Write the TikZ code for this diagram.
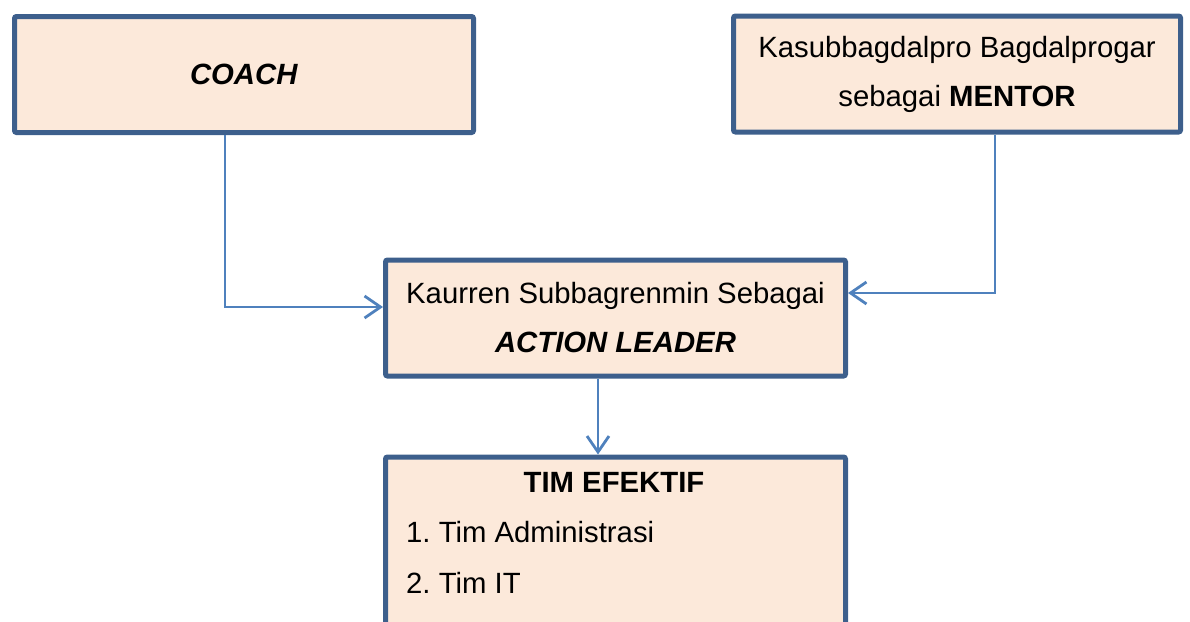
\documentclass[tikz,border=0pt]{standalone}
\usepackage{fontspec}
\setmainfont{Liberation Sans}
\usetikzlibrary{positioning, arrows.meta}
\definecolor{peach}{HTML}{FCE9DA}
\definecolor{boxblue}{HTML}{3D5F8C}
\definecolor{linkblue}{HTML}{4F81BD}
\frenchspacing

\tikzset{
  rolebox/.style={draw=boxblue, line width=5pt, fill=peach, rounded corners=2pt,
    minimum width=460pt, minimum height=116pt, inner sep=0pt, align=center,
    font=\fontsize{29.3}{49}\selectfont},
  timtext/.style={anchor=base, inner sep=0pt, font=\fontsize{29.3}{35}\selectfont},
  link/.style={draw=linkblue, line width=2.8pt, -{Straight Barb[length=16pt,width=22pt]}}
}

\begin{document}
\begin{tikzpicture}[x=1pt, y=-1pt]
    \useasboundingbox (0,0) rectangle (1190,621);
    \node[rolebox, minimum width=459pt] (coach) at (244,74.5) {\textbf{\textit{COACH}}};
    \node[rolebox, minimum width=447pt] (mentor) at (957,74)
      {Kasubbagdalpro Bagdalprogar\\ sebagai \textbf{MENTOR}};
    \node[rolebox] (leader) at (615.5,318)
      {Kaurren Subbagrenmin Sebagai\\ \textbf{\textit{ACTION LEADER}}};
    \node[rolebox, minimum height=240pt, anchor=north] (tim) at (615.5,454.5) {};
    \node[timtext] (timtitle) at (614,492) {\textbf{TIM EFEKTIF}};
    \node[timtext, anchor=base west] (timadm) at (406,542) {1. Tim Administrasi};
    \node[timtext, anchor=base west] (timit) at (406,593) {2. Tim IT};

    \draw[link] ([xshift=-19pt]coach.south) |- ([yshift=11pt]leader.west);
    \draw[link] ([xshift=38pt]mentor.south) |- ([yshift=25pt]leader.east);
    \draw[link] ([xshift=-17.5pt]leader.south) -- ([xshift=-17.5pt]tim.north);
  \end{tikzpicture}
\end{document}
